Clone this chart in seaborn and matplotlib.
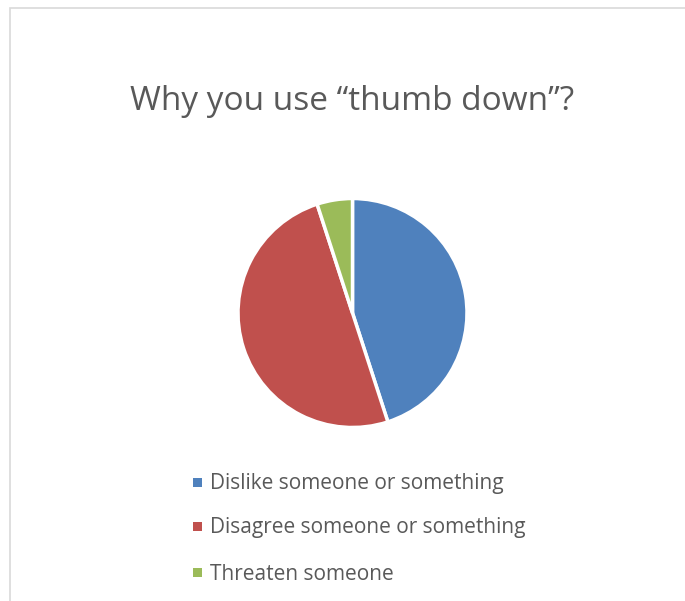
import matplotlib
matplotlib.use("Agg")
import matplotlib.pyplot as plt
import seaborn as sns
from matplotlib.patches import Rectangle

categories = ["Dislike someone or something", "Disagree someone or something", "Threaten someone"]
values = [45, 50, 5]
colors = ["#4F81BD", "#C0504D", "#9BBB59"]
title = "Why you use \u201cthumb down\u201d?"

sns.set_theme(style="white")
plt.rcParams['font.family'] = ['Open Sans', 'DejaVu Sans']

W, H = 685, 601
fig = plt.figure(figsize=(W / 100, H / 100), dpi=100)
fig.patch.set_facecolor("white")

# chart border
fig.add_artist(Rectangle((10 / W, -0.1), 1.0, 1 - 8 / H + 0.1, transform=fig.transFigure,
                         fill=False, edgecolor="#D9D9D9", linewidth=1.2))

cx, cy, r = 352.5, 313, 114.5
ax = fig.add_axes([(cx - r) / W, (H - cy - r) / H, 2 * r / W, 2 * r / H])
pal = sns.color_palette(colors)
ax.pie(values, colors=pal, startangle=90, counterclock=False, radius=1,
       wedgeprops=dict(edgecolor="white", linewidth=2.5))
ax.set_xlim(-1.0, 1.0)
ax.set_ylim(-1.0, 1.0)
ax.set_aspect("equal")
ax.axis("off")

fig.text(cx / W, 1 - 101 / H, title, ha="center", va="center", fontsize=24, color="#595959")

ys = [484, 528, 574]
for lab, col, y in zip(categories, pal, ys):
    fig.add_artist(Rectangle((193 / W, 1 - (y + 3) / H), 9 / W, 9 / H, transform=fig.transFigure,
                             facecolor=col, edgecolor="none"))
    fig.text(210 / W, 1 - y / H, lab, ha="left", va="center", fontsize=15, color="#595959")

fig.savefig("out.png", dpi=100)
